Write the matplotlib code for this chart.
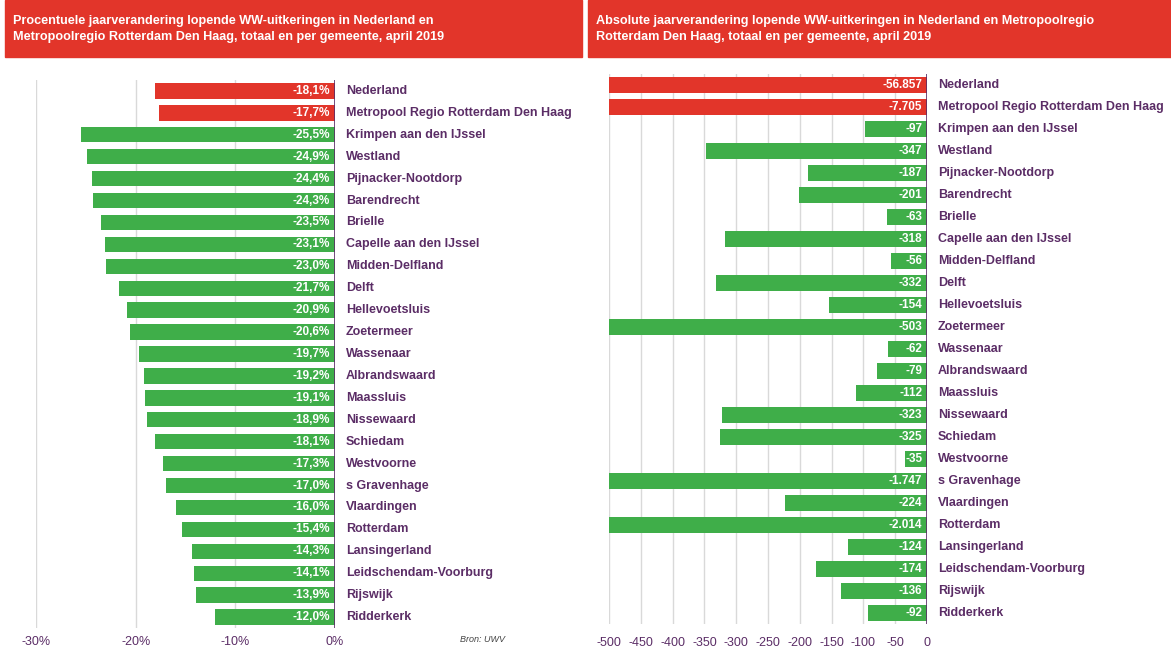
import matplotlib.pyplot as plt
from matplotlib.patches import Rectangle

names = ['Nederland', 'Metropool Regio Rotterdam Den Haag', 'Krimpen aan den IJssel',
         'Westland', 'Pijnacker-Nootdorp', 'Barendrecht', 'Brielle',
         'Capelle aan den IJssel', 'Midden-Delfland', 'Delft', 'Hellevoetsluis',
         'Zoetermeer', 'Wassenaar', 'Albrandswaard', 'Maassluis', 'Nissewaard',
         'Schiedam', 'Westvoorne', 's Gravenhage', 'Vlaardingen', 'Rotterdam',
         'Lansingerland', 'Leidschendam-Voorburg', 'Rijswijk', 'Ridderkerk']
pct = [-18.1, -17.7, -25.5, -24.9, -24.4, -24.3, -23.5, -23.1, -23.0, -21.7,
       -20.9, -20.6, -19.7, -19.2, -19.1, -18.9, -18.1, -17.3, -17.0, -16.0,
       -15.4, -14.3, -14.1, -13.9, -12.0]
absol = [-56857, -7705, -97, -347, -187, -201, -63, -318, -56, -332, -154, -503,
         -62, -79, -112, -323, -325, -35, -1747, -224, -2014, -124, -174, -136, -92]
pct_ticks = [-30, -20, -10, 0]
abs_ticks = list(range(-500, 1, 50))

titles = ['Procentuele jaarverandering lopende WW-uitkeringen in Nederland en\n'
          'Metropoolregio Rotterdam Den Haag, totaal en per gemeente, april 2019',
          'Absolute jaarverandering lopende WW-uitkeringen in Nederland en Metropoolregio\n'
          'Rotterdam Den Haag, totaal en per gemeente, april 2019']

RED = '#e2352a'
GREEN = '#3fae49'
PURPLE = '#5b2d66'
GRID = '#d9d9d9'

plt.rcParams['font.family'] = ['Liberation Sans', 'DejaVu Sans']

W, H = 1171, 654
fig = plt.figure(figsize=(W / 100, H / 100), dpi=100)


def px(x0, y0, x1, y1):
    return [x0 / W, 1 - y1 / H, (x1 - x0) / W, (y1 - y0) / H]


def fmt_pct(v):
    return ('%.1f%%' % v).replace('.', ',')


def fmt_abs(v):
    return '{:,}'.format(v).replace(',', '.')


def panel(ax, vals, fmt, xmin, ticks, tickfmt, pad):
    n = len(vals)
    ys = list(range(n))
    colors = [RED if i < 2 else GREEN for i in ys]
    ax.barh(ys, vals, height=0.7, color=colors, zorder=2)
    ax.set_xlim(xmin, 0)
    ax.set_ylim(n - 0.5, -0.5)
    for s in ax.spines.values():
        s.set_visible(False)
    ax.axvline(0, color=PURPLE, lw=1.2, zorder=3)
    for t in ticks[:-1]:
        ax.axvline(t, color=GRID, lw=1, zorder=1)
    ax.set_yticks([])
    ax.set_xticks(ticks)
    ax.set_xticklabels([tickfmt(t) for t in ticks], color=PURPLE, fontsize=9)
    ax.tick_params(axis='x', length=0, pad=pad)
    for i, v in enumerate(vals):
        ax.annotate(fmt(v), (0, i), xytext=(-3.5, 0), textcoords='offset points',
                    ha='right', va='center', color='white', fontsize=8.5,
                    fontweight='bold', zorder=4)
        ax.annotate(names[i], (0, i), xytext=(8, 0), textcoords='offset points',
                    ha='left', va='center', color=PURPLE, fontsize=9,
                    fontweight='bold', annotation_clip=False)


ax1 = fig.add_axes(px(36, 80, 335, 628))
panel(ax1, pct, fmt_pct, -30, pct_ticks, lambda t: '%d%%' % t, 6)

ax2 = fig.add_axes(px(609, 74, 927, 624))
panel(ax2, absol, fmt_abs, -500, abs_ticks, lambda t: '%d' % t, 9)

# title boxes
for (x0, x1), title in zip([(5, 582), (588, 1171)], titles):
    fig.patches.append(Rectangle((x0 / W, 1 - 57 / H), (x1 - x0) / W, 57 / H,
                                 transform=fig.transFigure, color=RED, zorder=0))
    fig.text((x0 + 8) / W, 1 - 29 / H, title, color='white', fontsize=9.1,
             fontweight='bold', ha='left', va='center', linespacing=1.55)

fig.text(460 / W, 1 - 640 / H, 'Bron: UWV', fontsize=6.5, style='italic',
         color='#444444', ha='left', va='center')

fig.savefig('out.png', dpi=100)
